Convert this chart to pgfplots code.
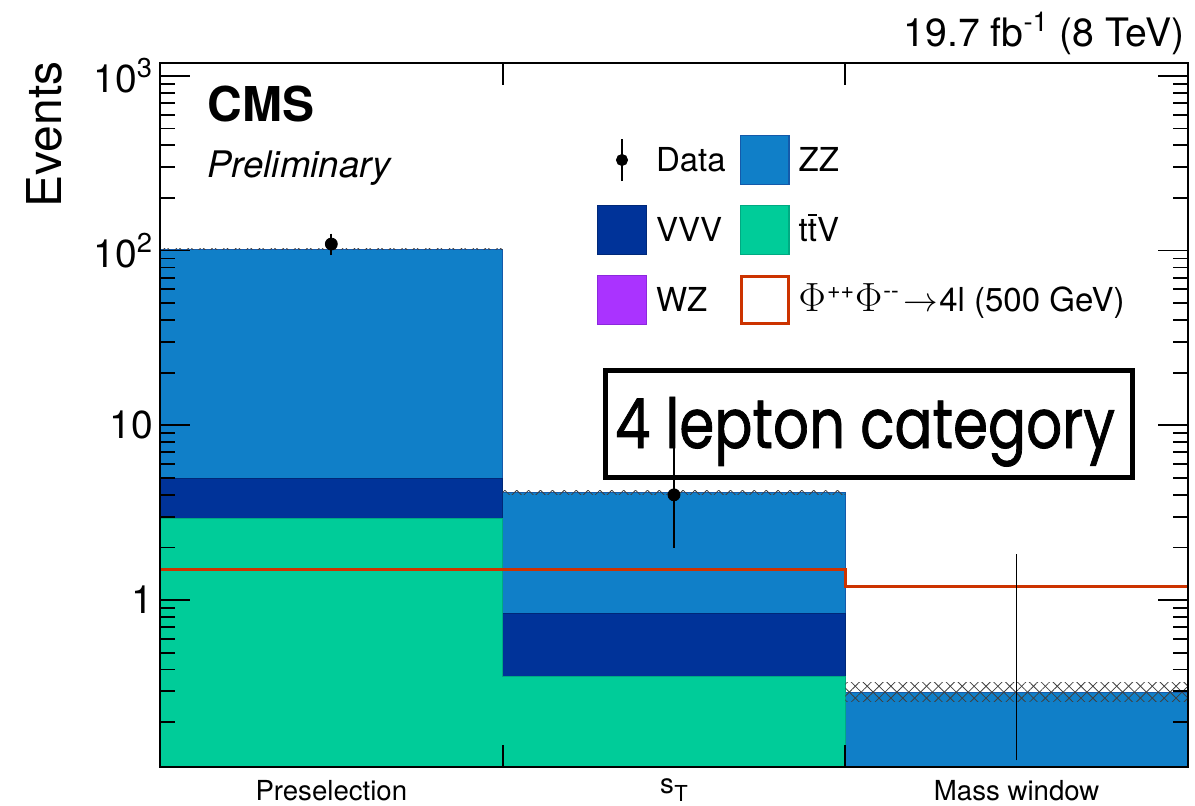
\documentclass[border=0pt]{standalone}
\usepackage{fontspec}
\setmainfont{TeX Gyre Heros}
\newfontfamily\futura[FakeBold=1.2]{Poppins}
\usepackage{pgfplots}
\pgfplotsset{compat=1.18}
\usetikzlibrary{patterns.meta}
\definecolor{zzc}{RGB}{16,127,200}
\definecolor{zze}{RGB}{20,90,170}
\definecolor{vvvc}{RGB}{0,51,153}
\definecolor{vvve}{RGB}{0,40,120}
\definecolor{ttvc}{RGB}{0,204,153}
\definecolor{ttve}{RGB}{0,170,130}
\definecolor{wzc}{RGB}{170,51,255}
\definecolor{wze}{RGB}{140,40,220}
\definecolor{sigc}{RGB}{204,51,0}
\newcommand{\ttbar}{t\smash{\rlap{\raisebox{0.76em}{\kern0.01em\rule{0.27em}{0.065em}}}}tV}
\begin{document}
\begin{tikzpicture}
\path[use as bounding box] (0,0) rectangle (597.5pt,402.5pt);
\begin{axis}[
  at={(80pt,19pt)}, anchor=south west,
  scale only axis, width=514pt, height=352pt,
  xmin=0, xmax=3, ymode=log, ymin=0.1107, ymax=1185,
  axis on top,
  /pgf/number format/assume math mode=true,
  axis line style={line width=1.2pt},
  every tick/.style={black, line width=0.9pt},
  tick align=inside,
  xtick pos=both,
  xtick={0,1,2,3},
  x tick label as interval,
  xticklabels={Preselection, \raisebox{3.5pt}{s\kern0.02em\raisebox{-0.3em}{\fontsize{11}{13}\selectfont T}}, Mass window},
  xtick style={/pgfplots/major tick length=11pt},
  xticklabel style={anchor=base, yshift=-16.5pt, font=\fontsize{13.8}{16}\selectfont},
  ytick={1,10,100,1000},
  yticklabels={1,10,10\textsuperscript{2},10\textsuperscript{3}},
  minor ytick={0.2,0.3,0.4,0.5,0.6,0.7,0.8,0.9,2,3,4,5,6,7,8,9,20,30,40,50,60,70,80,90,200,300,400,500,600,700,800,900},
  ytick style={/pgfplots/major tick length=15pt, /pgfplots/minor tick length=7.5pt},
  yticklabel style={font=\fontsize{19.5}{23}\selectfont},
  legend columns=2,
  legend cell align=left,
  legend style={at={(0.4251,0.8977)}, anchor=north west, draw=none, fill=none,
    inner sep=0pt, outer sep=0pt, row sep=10pt, column sep=4.5pt,
    font=\fontsize{16.5}{19}\selectfont,
    nodes={inner sep=0pt, text height=11.5pt, text depth=0pt},
    /tikz/every even column/.append style={column sep=7pt}},
]
% ZZ (top of stack)
\addplot[fill=zzc, draw=zze, line width=0.5pt, forget plot] coordinates
  {(0,0.05) (0,102) (1,102) (1,4.15) (2,4.15) (2,0.297) (3,0.297) (3,0.05)} -- cycle;
% VVV (cumulative)
\addplot[fill=vvvc, draw=vvve, line width=0.5pt, forget plot] coordinates
  {(0,0.05) (0,4.93) (1,4.93) (1,0.842) (2,0.842) (2,0.05)} -- cycle;
% ttV
\addplot[fill=ttvc, draw=ttve, line width=0.5pt, forget plot] coordinates
  {(0,0.05) (0,2.91) (1,2.91) (1,0.363) (2,0.363) (2,0.05)} -- cycle;
% uncertainty bands
\addplot[draw=none, pattern={Lines[angle=45,distance=4.2pt,line width=0.4pt]}, pattern color=darkgray, forget plot] coordinates
  {(0,101.5) (0,103) (1,103) (1,101.5)} -- cycle;
\addplot[draw=none, pattern={Lines[angle=-45,distance=4.2pt,line width=0.4pt]}, pattern color=darkgray, forget plot] coordinates
  {(0,101.5) (0,103) (1,103) (1,101.5)} -- cycle;
\addplot[draw=none, pattern={Lines[angle=45,distance=4.2pt,line width=0.4pt]}, pattern color=darkgray, forget plot] coordinates
  {(1,4.03) (1,4.24) (2,4.24) (2,4.03)} -- cycle;
\addplot[draw=none, pattern={Lines[angle=-45,distance=4.2pt,line width=0.4pt]}, pattern color=darkgray, forget plot] coordinates
  {(1,4.03) (1,4.24) (2,4.24) (2,4.03)} -- cycle;
\addplot[draw=none, pattern={Lines[angle=45,distance=4.2pt,line width=0.4pt]}, pattern color=darkgray, forget plot] coordinates
  {(2,0.261) (2,0.335) (3,0.335) (3,0.261)} -- cycle;
\addplot[draw=none, pattern={Lines[angle=-45,distance=4.2pt,line width=0.4pt]}, pattern color=darkgray, forget plot] coordinates
  {(2,0.261) (2,0.335) (3,0.335) (3,0.261)} -- cycle;
% signal
\addplot[const plot, sigc, line width=1.5pt, forget plot] coordinates
  {(0,1.486) (1,1.486) (2,1.19) (3,1.19)};
% data
\addplot[only marks, mark=*, mark size=3pt, black, forget plot,
  error bars/.cd, y dir=both, y explicit,
  error bar style={line width=1pt},
  error mark options={mark size=1.75pt, line width=1pt}] coordinates
  {(0.5,109) +- (0,10.4) (1.5,4) += (0,3.16) -= (0,1.91)};
\addplot[black, line width=0.8pt, forget plot] coordinates {(2.5,0.121) (2.5,1.84)};
% legend
\addlegendimage{legend image code/.code={
  \path[draw=none, fill=none] (0pt,-12.5pt) rectangle (25pt,12.5pt);
  \draw[black, line width=1pt] (12.5pt,-10.5pt) -- (12.5pt,10.5pt);
  \fill[black] (12.5pt,0pt) circle (2.8pt);}}
\addlegendentry{Data}
\addlegendimage{legend image code/.code={\filldraw[fill=zzc, draw=zze, line width=0.6pt] (0.3pt,-12.2pt) rectangle (24.7pt,12.2pt);}}
\addlegendentry{ZZ}
\addlegendimage{legend image code/.code={\filldraw[fill=vvvc, draw=vvve, line width=0.6pt] (0.3pt,-12.2pt) rectangle (24.7pt,12.2pt);}}
\addlegendentry{VVV}
\addlegendimage{legend image code/.code={\filldraw[fill=ttvc, draw=ttve, line width=0.6pt] (0.3pt,-12.2pt) rectangle (24.7pt,12.2pt);}}
\addlegendentry{\ttbar}
\addlegendimage{legend image code/.code={\filldraw[fill=wzc, draw=wze, line width=0.6pt] (0.3pt,-12.2pt) rectangle (24.7pt,12.2pt);}}
\addlegendentry{WZ}
\addlegendimage{legend image code/.code={\filldraw[fill=white, draw=sigc, line width=1.5pt] (0.75pt,-11.75pt) rectangle (24.25pt,11.75pt);}}
\addlegendentry{\scalebox{1.18}{$\Phi$}\textsuperscript{\kern0.05em++}\scalebox{1.18}{$\Phi$}\textsuperscript{\kern0.05em-{}-}\kern0.1em$\rightarrow$\kern0.05em4l (500 GeV)}
\end{axis}
\node[rotate=90, anchor=base east, inner sep=0pt, font=\fontsize{24}{28}\selectfont] at (31pt,372pt) {Events};
\node[anchor=base west, inner sep=0pt, font=\fontsize{24}{28}\selectfont\bfseries] at (103.5pt,341.5pt) {CMS};
\node[anchor=base west, inner sep=0pt, font=\fontsize{18.3}{22}\selectfont\itshape] at (103.5pt,313.5pt) {Preliminary};
\node[anchor=base east, inner sep=0pt, font=\fontsize{19.6}{23}\selectfont] at (592.5pt,379pt) {19.7 fb\textsuperscript{-1} (8 TeV)};
\draw[line width=2.5pt] (302.5pt,163.75pt) rectangle (566pt,217.25pt);
\node[anchor=base, inner sep=0pt] at (432.5pt,178.5pt) {\resizebox{250pt}{25.5pt}{\futura 4 lepton category}};
\end{tikzpicture}
\end{document}
